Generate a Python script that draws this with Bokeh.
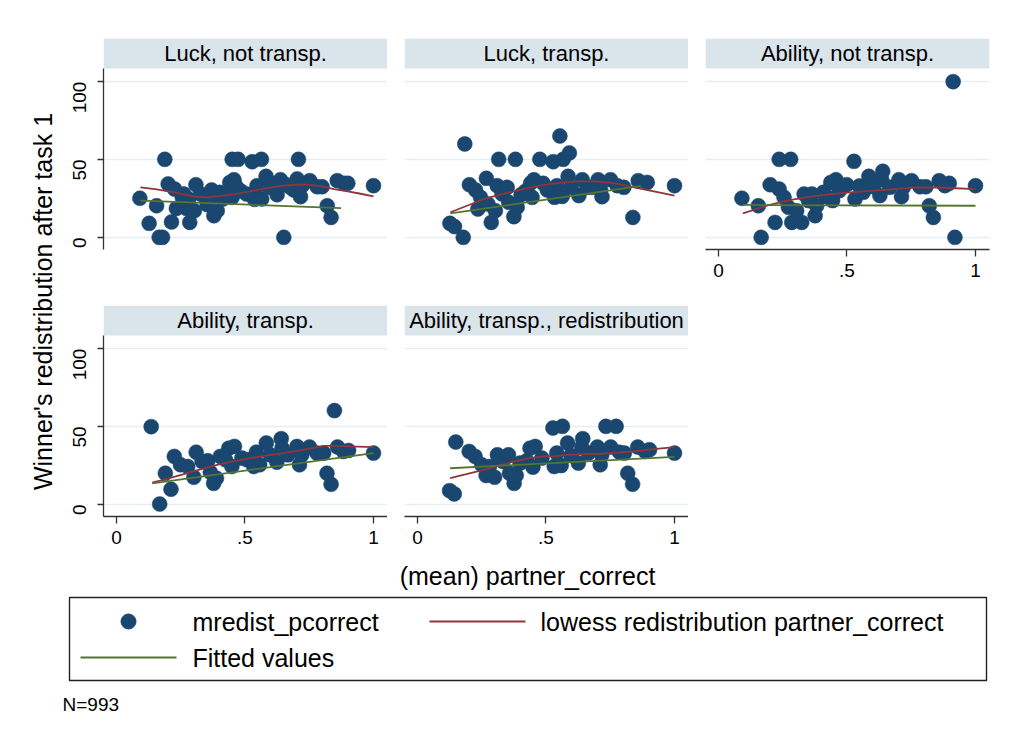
import math
from bokeh.plotting import figure
from bokeh.layouts import row, column
from bokeh.models import Range1d, FixedTicker
from bokeh.core.properties import value
from bokeh.embed import file_html
from bokeh.resources import INLINE

# ---------------- data ----------------
panel_titles = ["Luck, not transp.", "Luck, transp.", "Ability, not transp.",
                "Ability, transp.", "Ability, transp., redistribution"]

# Luck, not transp.
luck_nt_x = [0.091, 0.127, 0.156, 0.166, 0.179, 0.188, 0.201, 0.214, 0.226, 0.233, 0.256, 0.262, 0.272,
             0.281, 0.285, 0.303, 0.309, 0.327, 0.346, 0.353, 0.370, 0.372, 0.379, 0.392, 0.402, 0.414,
             0.428, 0.441, 0.450, 0.450, 0.457, 0.463, 0.473, 0.482, 0.506, 0.528, 0.537, 0.547, 0.564,
             0.565, 0.582, 0.593, 0.612, 0.625, 0.638, 0.651, 0.660, 0.677, 0.690, 0.703, 0.708, 0.716,
             0.722, 0.752, 0.781, 0.800, 0.820, 0.835, 0.859, 0.885, 0.900, 1.000]
luck_nt_y = [25.1, 9.0, 20.3, 0.0, 0.0, 50.1, 34.3, 9.9, 31.0, 18.6, 25.7, 27.8, 18.6,
             24.6, 9.6, 17.1, 33.8, 27.8, 25.7, 21.0, 30.4, 21.4, 13.9, 17.1, 28.9, 24.6,
             28.3, 35.3, 50.1, 25.7, 37.0, 33.2, 50.1, 30.0, 27.8, 48.6, 24.4, 33.2, 50.1,
             24.6, 39.2, 32.1, 34.3, 27.4, 37.0, 0.0, 33.8, 32.1, 30.4, 37.5, 50.1, 26.1,
             33.2, 36.4, 32.5, 32.5, 20.3, 12.8, 36.4, 34.7, 34.7, 33.2]
luck_nt_low_x = [0.093, 0.15, 0.22, 0.30, 0.353, 0.40, 0.457, 0.52, 0.58, 0.638, 0.70, 0.742, 0.80, 0.846, 0.90, 0.95, 1.0]
luck_nt_low_y = [32.1, 31.0, 29.0, 26.3, 25.7, 26.5, 27.8, 29.5, 31.5, 33.0, 33.8, 33.8, 32.8, 31.0, 29.5, 28.0, 26.3]
luck_nt_fit_x = [0.093, 0.874]
luck_nt_fit_y = [23.6, 18.8]

# Luck, transp.
luck_t_x = [0.126, 0.144, 0.178, 0.184, 0.202, 0.226, 0.235, 0.245, 0.268, 0.274, 0.287, 0.303, 0.310,
            0.316, 0.329, 0.349, 0.355, 0.375, 0.381, 0.388, 0.403, 0.420, 0.440, 0.446, 0.453, 0.476,
            0.489, 0.505, 0.528, 0.533, 0.543, 0.554, 0.563, 0.567, 0.586, 0.591, 0.598, 0.628, 0.641,
            0.660, 0.680, 0.703, 0.712, 0.718, 0.751, 0.777, 0.803, 0.838, 0.859, 0.894, 1.000]
luck_t_y = [9.0, 6.9, 0.0, 60.0, 33.8, 30.4, 18.2, 25.7, 37.9, 21.4, 9.6, 17.1, 33.2,
            50.1, 27.8, 32.1, 22.5, 13.3, 50.1, 19.3, 27.4, 29.6, 34.7, 25.7, 37.0, 50.1,
            34.7, 30.4, 48.6, 25.7, 33.2, 65.1, 26.3, 50.1, 39.2, 54.2, 32.1, 26.8, 37.0,
            32.1, 32.1, 37.0, 31.0, 26.1, 37.0, 33.2, 32.1, 12.8, 36.4, 35.3, 33.2]
luck_t_low_x = [0.128, 0.20, 0.258, 0.32, 0.388, 0.45, 0.518, 0.58, 0.634, 0.69, 0.738, 0.79, 0.842, 0.92, 1.0]
luck_t_low_y = [16.1, 20.8, 24.6, 27.5, 30.0, 32.4, 34.3, 35.5, 36.0, 35.9, 35.3, 34.0, 32.1, 29.5, 26.8]
luck_t_fit_x = [0.128, 0.870]
luck_t_fit_y = [15.4, 33.0]

# Ability, not transp.
abil_nt_x = [0.091, 0.155, 0.166, 0.201, 0.220, 0.236, 0.236, 0.255, 0.272, 0.281, 0.285, 0.304, 0.324,
             0.333, 0.350, 0.363, 0.376, 0.382, 0.408, 0.421, 0.437, 0.444, 0.457, 0.470, 0.499, 0.527,
             0.531, 0.548, 0.563, 0.585, 0.602, 0.628, 0.635, 0.639, 0.667, 0.702, 0.712, 0.719, 0.751,
             0.784, 0.807, 0.820, 0.836, 0.859, 0.881, 0.898, 0.913, 0.920, 1.000]
abil_nt_y = [25.1, 20.3, 0.0, 33.8, 9.6, 50.1, 31.0, 25.7, 19.3, 50.1, 9.6, 17.1, 9.6,
             27.8, 23.6, 27.8, 13.9, 20.3, 28.9, 26.1, 35.3, 23.6, 37.0, 30.0, 33.8, 48.8,
             24.6, 33.0, 28.9, 39.2, 32.5, 26.8, 37.0, 42.4, 32.1, 37.0, 26.1, 32.1, 36.4,
             32.5, 32.5, 20.3, 12.8, 36.4, 33.2, 34.7, 100.0, 0.0, 33.2]
abil_nt_low_x = [0.095, 0.188, 0.266, 0.356, 0.43, 0.512, 0.58, 0.641, 0.71, 0.771, 0.84, 0.90, 1.0]
abil_nt_low_y = [15.4, 20.3, 23.6, 26.1, 27.6, 28.9, 29.7, 30.4, 31.3, 32.1, 32.0, 31.7, 31.0]
abil_nt_fit_x = [0.095, 1.0]
abil_nt_fit_y = [20.8, 20.3]

# Ability, transp.
abil_t_x = [0.135, 0.168, 0.190, 0.212, 0.225, 0.249, 0.277, 0.301, 0.310, 0.333, 0.355, 0.365, 0.378,
            0.389, 0.404, 0.424, 0.437, 0.449, 0.459, 0.488, 0.508, 0.534, 0.544, 0.557, 0.583, 0.598,
            0.624, 0.641, 0.644, 0.667, 0.702, 0.712, 0.721, 0.751, 0.780, 0.806, 0.819, 0.835, 0.848,
            0.860, 0.883, 0.903, 1.000]
abil_t_y = [49.9, 0.2, 20.0, 9.7, 30.8, 25.4, 24.3, 17.4, 33.5, 27.5, 28.0, 20.6, 13.5,
            16.8, 30.8, 28.6, 36.1, 24.3, 37.2, 29.7, 28.6, 24.3, 33.5, 25.4, 39.4, 31.8,
            27.1, 42.2, 36.1, 31.8, 37.2, 25.4, 31.8, 36.8, 32.9, 32.9, 20.0, 12.9, 60.2,
            36.8, 34.0, 34.6, 32.9]
abil_t_low_x = [0.139, 0.20, 0.262, 0.33, 0.391, 0.46, 0.521, 0.59, 0.65, 0.73, 0.806, 0.86, 0.909, 1.0]
abil_t_low_y = [14.0, 16.5, 19.4, 22.6, 25.4, 27.8, 29.7, 31.4, 32.9, 35.2, 37.6, 37.5, 37.2, 36.8]
abil_t_fit_x = [0.139, 1.0]
abil_t_fit_y = [13.5, 32.9]

# Ability, transp., redistribution
abil_tr_x = [0.125, 0.143, 0.149, 0.201, 0.224, 0.250, 0.267, 0.280, 0.300, 0.311, 0.332, 0.354, 0.358,
             0.376, 0.384, 0.399, 0.425, 0.438, 0.449, 0.458, 0.484, 0.527, 0.532, 0.542, 0.559, 0.564,
             0.584, 0.597, 0.626, 0.639, 0.643, 0.665, 0.700, 0.711, 0.717, 0.733, 0.752, 0.773, 0.786,
             0.805, 0.818, 0.837, 0.857, 0.886, 0.903, 1.000]
abil_tr_y = [8.8, 6.7, 40.0, 34.0, 30.8, 25.4, 18.5, 24.3, 17.4, 31.8, 27.5, 31.8, 20.0,
             13.5, 18.5, 26.5, 28.0, 36.1, 23.9, 37.2, 29.7, 49.0, 24.3, 32.9, 24.9, 50.1,
             39.4, 31.4, 26.5, 36.8, 42.2, 32.9, 36.8, 25.4, 31.8, 50.1, 36.8, 50.1, 33.5,
             32.9, 20.0, 12.9, 36.8, 34.0, 35.1, 32.9]
abil_tr_low_x = [0.127, 0.19, 0.257, 0.32, 0.387, 0.44, 0.49, 0.54, 0.581, 0.65, 0.711, 0.78, 0.84, 0.92, 1.0]
abil_tr_low_y = [16.8, 19.4, 22.2, 25.0, 28.0, 29.8, 30.8, 31.0, 31.8, 32.2, 32.5, 33.2, 34.0, 35.4, 36.8]
abil_tr_fit_x = [0.127, 1.0]
abil_tr_fit_y = [23.2, 30.5]

x_ticks = [0, 0.5, 1]
x_tick_labels = ["0", ".5", "1"]
y_ticks = [0, 50, 100]

y_title = "Winner's redistribution after task 1"
x_title = "(mean) partner_correct"
legend_labels = ["mredist_pcorrect", "lowess redistribution partner_correct", "Fitted values"]
note_text = "N=993"

# ---------------- style ----------------
FONT = "Liberation Sans"
NAVY = "#1a476f"
MAROON = "#90353b"
GREEN = "#55752f"
STRIP = "#d9e5eb"
GRID = "#e6eef1"
AXIS = "#333333"

X0, X1 = -0.0506, 1.0545
Y0, Y1 = -7.8, 127.7
STRIP_BOTTOM = 108.5
FW, FH = 284, 211


def make_panel(title, sx, sy, lx, ly, fx, fy, show_x, show_y, bl, bt, bb, br):
    p = figure(frame_width=FW, frame_height=FH,
               x_range=Range1d(X0, X1), y_range=Range1d(Y0, Y1),
               min_border_left=bl, min_border_right=br, min_border_top=bt, min_border_bottom=bb,
               toolbar_location=None, output_backend="svg", title=None,
               x_axis_location="below" if show_x else None,
               y_axis_location="left" if show_y else None)
    p.outline_line_color = None
    p.background_fill_color = "white"
    p.border_fill_color = "white"
    p.xgrid.visible = False
    p.ygrid.ticker = FixedTicker(ticks=y_ticks)
    p.ygrid.grid_line_color = GRID
    p.ygrid.grid_line_width = 1.3

    # strip
    p.quad(left=[X0], right=[X1], bottom=[STRIP_BOTTOM], top=[Y1],
           fill_color=STRIP, line_color=None)
    p.text(x=[(X0 + X1) / 2], y=[(STRIP_BOTTOM + Y1) / 2], text=[title],
           text_align="center", text_baseline="middle",
           text_font=value(FONT), text_font_size="22px", text_color="black")

    p.scatter(sx, sy, size=15, fill_color=NAVY, line_color=NAVY, line_width=0.5)
    p.line(lx, ly, line_color=MAROON, line_width=1.8)
    p.line(fx, fy, line_color=GREEN, line_width=1.8)

    if show_y:
        ax = p.yaxis[0]
        ax.ticker = FixedTicker(ticks=y_ticks)
        ax.bounds = (Y0, STRIP_BOTTOM)
        ax.minor_tick_line_color = None
        ax.major_tick_out = 6
        ax.major_tick_in = 0
        ax.axis_line_color = AXIS
        ax.axis_line_width = 1.3
        ax.major_tick_line_color = AXIS
        ax.major_tick_line_width = 1.3
        ax.major_label_orientation = math.pi / 2
        ax.major_label_standoff = 18
        ax.major_label_text_font = FONT
        ax.major_label_text_font_size = "19px"
        ax.major_label_text_color = "black"
    if show_x:
        ax = p.xaxis[0]
        ax.ticker = FixedTicker(ticks=x_ticks)
        ax.major_label_overrides = {t: l for t, l in zip(x_ticks, x_tick_labels)}
        ax.minor_tick_line_color = None
        ax.major_tick_out = 7
        ax.major_tick_in = 0
        ax.axis_line_color = AXIS
        ax.axis_line_width = 1.3
        ax.major_tick_line_color = AXIS
        ax.major_tick_line_width = 1.3
        ax.major_label_standoff = 7
        ax.major_label_text_font = FONT
        ax.major_label_text_font_size = "19px"
        ax.major_label_text_color = "black"
    return p


p1 = make_panel(panel_titles[0], luck_nt_x, luck_nt_y, luck_nt_low_x, luck_nt_low_y, luck_nt_fit_x, luck_nt_fit_y,
                False, True, 43, 38, 36, 0)
p2 = make_panel(panel_titles[1], luck_t_x, luck_t_y, luck_t_low_x, luck_t_low_y, luck_t_fit_x, luck_t_fit_y,
                False, False, 17, 38, 36, 0)
p3 = make_panel(panel_titles[2], abil_nt_x, abil_nt_y, abil_nt_low_x, abil_nt_low_y, abil_nt_fit_x, abil_nt_fit_y,
                True, False, 17, 38, 36, 8)
p4 = make_panel(panel_titles[3], abil_t_x, abil_t_y, abil_t_low_x, abil_t_low_y, abil_t_fit_x, abil_t_fit_y,
                True, True, 43, 20, 34, 0)
p5 = make_panel(panel_titles[4], abil_tr_x, abil_tr_y, abil_tr_low_x, abil_tr_low_y, abil_tr_fit_x, abil_tr_fit_y,
                True, False, 17, 20, 34, 0)

# y-axis title column
YT_W, YT_H = 60, 550
yt = figure(width=YT_W, height=YT_H, x_range=Range1d(0, YT_W), y_range=Range1d(0, YT_H),
            min_border_left=0, min_border_right=0, min_border_top=0, min_border_bottom=0,
            toolbar_location=None, output_backend="svg", title=None,
            x_axis_location=None, y_axis_location=None)
yt.outline_line_color = None
yt.grid.visible = False
yt.text(x=[42], y=[YT_H - 301], text=[y_title], angle=math.pi / 2,
        text_align="center", text_baseline="middle",
        text_font=value(FONT), text_font_size="25px", text_color="black")

# bottom area: x title, legend, note
BW, BH = 1005, 170
bot = figure(width=BW, height=BH, x_range=Range1d(0, BW), y_range=Range1d(BH, 0),
             min_border_left=0, min_border_right=0, min_border_top=0, min_border_bottom=0,
             toolbar_location=None, output_backend="svg", title=None,
             x_axis_location=None, y_axis_location=None)
bot.outline_line_color = None
bot.grid.visible = False
bot.text(x=[527], y=[25], text=[x_title], text_align="center", text_baseline="middle",
         text_font=value(FONT), text_font_size="25px", text_color="black")
# legend frame
bot.quad(left=[69], right=[986], top=[47], bottom=[130], fill_color=None,
         line_color="#222222", line_width=1.4)
bot.scatter([128], [71], size=15, fill_color=NAVY, line_color=NAVY)
bot.line([429, 525], [71, 71], line_color=MAROON, line_width=1.8)
bot.line([80, 176], [107, 107], line_color=GREEN, line_width=1.8)
bot.text(x=[192, 540, 192], y=[71, 71, 107], text=legend_labels,
         text_align="left", text_baseline="middle",
         text_font=value(FONT), text_font_size="25px", text_color="black")
bot.text(x=[62], y=[154], text=[note_text], text_align="left", text_baseline="middle",
         text_font=value(FONT), text_font_size="19px", text_color="black")

layout = column(row(yt, column(row(p1, p2, p3), row(p4, p5))), bot)

open("out.html", "w").write(file_html(layout, INLINE))
